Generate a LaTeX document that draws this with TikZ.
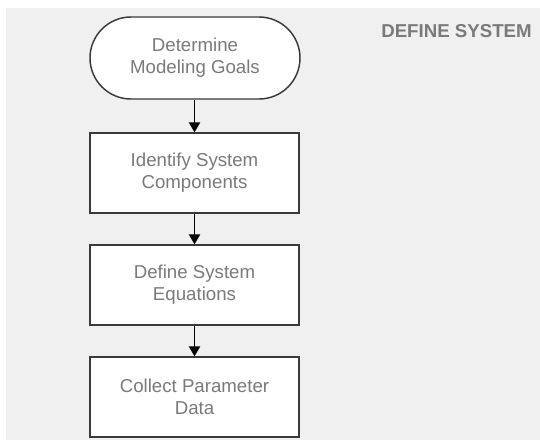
\documentclass[tikz,border=0pt]{standalone}
\usepackage{fontspec}
\setmainfont{Liberation Sans}
\usetikzlibrary{arrows.meta}
\definecolor{bggray}{HTML}{F0F0F0}
\definecolor{txtgray}{HTML}{7A7A7A}
\definecolor{ttlgray}{HTML}{7A7A7A}
\definecolor{edge}{HTML}{3A3A3A}
\begin{document}
\begin{tikzpicture}[x=0.75pt,y=-0.75pt,
  procbox/.style={draw=edge, line width=1.1pt, fill=white, minimum width=156.75pt, minimum height=60pt,
    align=center, text=txtgray, font=\fontsize{14}{16.5}\selectfont, inner sep=0pt},
  termbox/.style={procbox, minimum width=157.5pt, minimum height=61.5pt, rounded corners=30.75pt},
  flow/.style={draw=black, line width=1.1pt, -{Triangle[length=7.5pt,width=8.5pt]}}]
\useasboundingbox (0,0) rectangle (540,440);
\fill[white] (0,0) rectangle (540,440);
\fill[bggray] (6,8) rectangle (540,440);
\node[termbox] (t) at (195,58) {Determine\\Modeling Goals};
\node[procbox] (b1) at (194.5,173) {Identify System\\Components};
\node[procbox] (b2) at (194.5,285) {Define System\\Equations};
\node[procbox] (b3) at (194.5,397) {Collect Parameter\\Data};
\node[text=ttlgray, font=\fontsize{14}{16.5}\selectfont\bfseries, anchor=center] (title) at (456.5,31.5) {DEFINE SYSTEM};
\draw[flow] (t.south -| b1) -- (b1.north);
\draw[flow] (b1) -- (b2);
\draw[flow] (b2) -- (b3);
\end{tikzpicture}
\end{document}
